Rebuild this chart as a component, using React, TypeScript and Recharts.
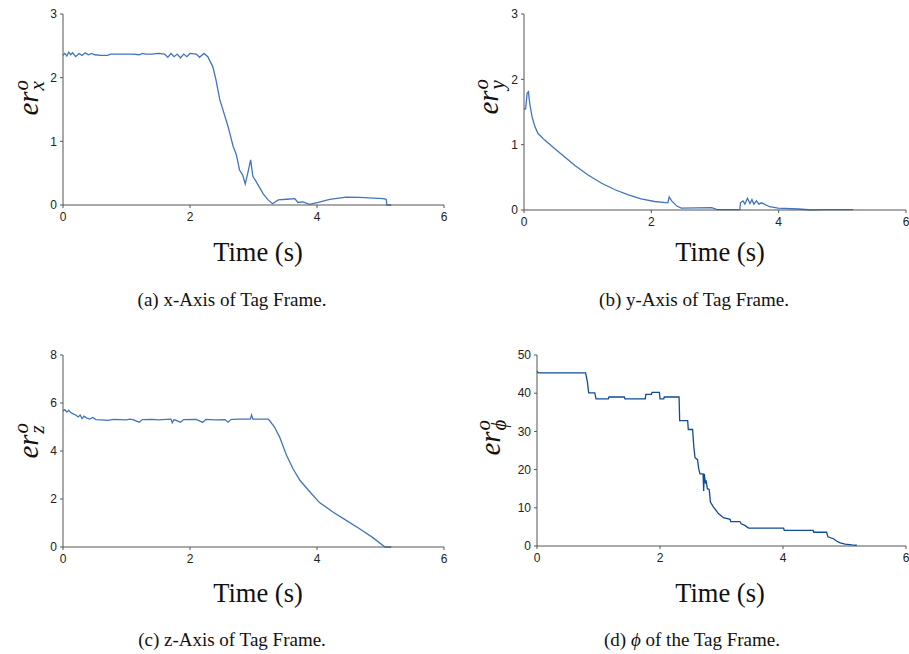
import { LineChart, Line, XAxis, YAxis } from "recharts";

// er_x
const timeX = [
  0, 0.03, 0.06, 0.09, 0.12, 0.15, 0.2, 0.25, 0.3, 0.35, 0.4, 0.45, 0.5, 0.6, 0.7, 0.75, 0.8, 0.9, 1.0, 1.1,
  1.2, 1.25, 1.3, 1.4, 1.5, 1.6, 1.65, 1.7, 1.75, 1.8, 1.85, 1.9, 1.95, 2.0, 2.1, 2.15, 2.22, 2.28, 2.36, 2.41,
  2.47, 2.52, 2.6, 2.68, 2.73, 2.78, 2.83, 2.87, 2.91, 2.955, 2.99, 3.04, 3.15, 3.23, 3.3, 3.39, 3.52, 3.65, 3.7,
  3.78, 3.88, 4.02, 4.2, 4.46, 4.67, 5.04, 5.09, 5.1, 5.17,
];
const errX = [
  2.35, 2.38, 2.34, 2.4, 2.36, 2.39, 2.33, 2.38, 2.35, 2.39, 2.36, 2.38, 2.36, 2.35, 2.35, 2.37, 2.37, 2.37, 2.37, 2.37,
  2.36, 2.38, 2.37, 2.37, 2.38, 2.37, 2.32, 2.38, 2.33, 2.37, 2.31, 2.37, 2.33, 2.38, 2.37, 2.32, 2.38, 2.33, 2.17, 1.96,
  1.65, 1.49, 1.23, 0.92, 0.79, 0.55, 0.47, 0.33, 0.5, 0.71, 0.45, 0.37, 0.18, 0.08, 0.02, 0.08, 0.09, 0.1, 0.04,
  0.05, 0.01, 0.04, 0.09, 0.125, 0.12, 0.1, 0.09, 0, 0,
];

// er_y
const timeY = [
  0, 0.026, 0.05, 0.07, 0.09, 0.126, 0.17, 0.22, 0.325, 0.48, 0.64, 0.8, 1.0, 1.22, 1.43, 1.64, 1.84, 2.05, 2.26,
  2.28, 2.32, 2.4, 2.47, 2.95, 3.03, 3.39, 3.4, 3.44, 3.47, 3.51, 3.55, 3.58, 3.61, 3.65, 3.69, 3.73, 3.86, 3.99,
  4.31, 4.52, 4.7, 5.17,
];
const errY = [
  1.54, 1.55, 1.79, 1.81, 1.63, 1.43, 1.28, 1.17, 1.07, 0.94, 0.81, 0.68, 0.54, 0.41, 0.31, 0.23, 0.17, 0.13, 0.11,
  0.2, 0.14, 0.06, 0.03, 0.036, 0.005, 0.005, 0.11, 0.14, 0.09, 0.18, 0.1, 0.16, 0.09, 0.14, 0.09, 0.11, 0.05, 0.03,
  0.015, 0, 0.005, 0.005,
];

// er_z
const timeZ = [
  0, 0.03, 0.06, 0.09, 0.12, 0.16, 0.2, 0.24, 0.27, 0.3, 0.33, 0.37, 0.42, 0.47, 0.52, 0.6, 0.7, 0.8, 0.9, 1.0,
  1.05, 1.1, 1.2, 1.25, 1.4, 1.5, 1.7, 1.72, 1.75, 1.85, 1.9, 2.1, 2.2, 2.25, 2.4, 2.55, 2.6, 2.65, 2.8, 2.95,
  2.97, 2.99, 3.1, 3.23, 3.25, 3.33, 3.41, 3.52, 3.62, 3.73, 3.89, 4.04, 4.25, 4.46, 4.67, 4.88, 5.07, 5.17,
];
const errZ = [
  5.67, 5.72, 5.62, 5.7, 5.6, 5.55, 5.5, 5.42, 5.5, 5.35, 5.45, 5.38, 5.33, 5.4, 5.31, 5.3, 5.28, 5.32, 5.31, 5.3,
  5.33, 5.31, 5.2, 5.31, 5.32, 5.3, 5.33, 5.18, 5.31, 5.2, 5.31, 5.32, 5.19, 5.32, 5.3, 5.31, 5.2, 5.32, 5.33, 5.33,
  5.5, 5.33, 5.33, 5.33, 5.28, 5.0, 4.59, 3.82, 3.27, 2.78, 2.29, 1.85, 1.46, 1.11, 0.76, 0.39, 0, 0,
];

// er_phi
const timePhi = [
  0, 0.02, 0.79, 0.82, 0.84, 0.94, 0.96, 1.16, 1.17, 1.42, 1.43, 1.76, 1.77, 1.86, 1.87, 1.99, 2.0, 2.06, 2.07,
  2.31, 2.32, 2.45, 2.46, 2.53, 2.55, 2.57, 2.61, 2.63, 2.65, 2.7, 2.71, 2.72, 2.74, 2.75, 2.77, 2.8, 2.82, 2.87,
  2.95, 3.03, 3.14, 3.15, 3.3, 3.32, 3.38, 3.44, 4.01, 4.02, 4.49, 4.5, 4.71, 4.73, 4.82, 4.87, 4.93, 5.01, 5.12,
  5.2,
];
const errPhi = [
  45.8, 45.3, 45.3, 42.9, 40.1, 40.1, 38.5, 38.5, 39.0, 39.0, 38.5, 38.5, 39.7, 39.7, 40.2, 40.2, 38.5, 38.5, 39.0,
  39.0, 32.8, 32.8, 30.5, 30.5, 25.9, 23.1, 22.6, 20.2, 18.9, 18.9, 14.4, 18.9, 16.3, 17.2, 15.0, 14.8, 11.5, 10.2,
  8.5, 7.4, 7.0, 6.4, 6.4, 5.8, 5.4, 4.7, 4.7, 4.1, 4.1, 3.6, 3.6, 2.4, 1.9, 1.3, 0.8, 0.5, 0.3, 0.2,
];

const xTicks = [0, 2, 4, 6];

const serif = "'Liberation Serif', 'Times New Roman', serif";
const sans = "'Liberation Sans', Arial, sans-serif";

const toRows = (t: number[], v: number[]) => t.map((time, i) => ({ time, value: v[i] }));

type PanelProps = {
  left: number;
  top: number;
  w: number;
  h: number;
  t: number[];
  v: number[];
  yMax: number;
  yTicks: number[];
  color: string;
  yLeft: number;
};

const Panel = ({ left, top, w, h, t, v, yMax, yTicks, color, yLeft }: PanelProps) => {
  const axisLine = { stroke: "#555", strokeWidth: 1 };
  const tick = { fontSize: 12, fontFamily: sans, fill: "#222" };
  return (
    <div style={{ position: "absolute", left: left - yLeft, top: top - 10 }}>
      <LineChart
        width={w + yLeft + 20}
        height={h + 10 + 30}
        data={toRows(t, v)}
        margin={{ top: 10, right: 20, bottom: 0, left: 0 }}
      >
        <XAxis
          dataKey="time"
          type="number"
          domain={[0, 6]}
          ticks={xTicks}
          height={30}
          axisLine={axisLine}
          tickLine={axisLine}
          tickSize={3}
          tickMargin={4}
          tick={tick}
          interval={0}
        />
        <YAxis
          type="number"
          domain={[0, yMax]}
          ticks={yTicks}
          width={yLeft}
          axisLine={axisLine}
          tickLine={axisLine}
          tickSize={3}
          tickMargin={3}
          tick={tick}
          interval={0}
        />
        <Line
          dataKey="value"
          type="linear"
          stroke={color}
          strokeWidth={1.3}
          dot={false}
          isAnimationActive={false}
        />
      </LineChart>
    </div>
  );
};

// er with stacked o (sup) and axis name (sub), rotated like a y label
const YLabel = ({ x, y, sub }: { x: number; y: number; sub: string }) => (
  <div
    style={{
      position: "absolute",
      left: x,
      top: y,
      transform: "translate(-50%, -50%) rotate(-90deg)",
      fontFamily: serif,
      fontStyle: "italic",
      fontSize: 29,
      whiteSpace: "nowrap",
      lineHeight: 1,
      color: "#111",
    }}
  >
    er
    <span style={{ position: "relative", display: "inline-block", width: "0.45em" }}>
      <span style={{ position: "absolute", left: 1, bottom: 6, fontSize: 21, lineHeight: 1 }}>o</span>
      <span style={{ position: "absolute", left: 1, bottom: -10, fontSize: 21, lineHeight: 1 }}>{sub}</span>
    </span>
  </div>
);

const Text = ({ x, y, size, children }: { x: number; y: number; size: number; children: any }) => (
  <div
    style={{
      position: "absolute",
      left: x,
      top: y,
      transform: "translate(-50%, -50%)",
      fontFamily: serif,
      fontSize: size,
      whiteSpace: "nowrap",
      color: "#111",
    }}
  >
    {children}
  </div>
);

export default function App() {
  return (
    <div
      style={{
        position: "absolute",
        left: 0,
        top: 0,
        width: 909,
        height: 654,
        overflow: "hidden",
        background: "#fff",
      }}
    >
      <Panel left={63} top={14} w={381} h={191} t={timeX} v={errX} yMax={3} yTicks={[0, 1, 2, 3]} color="#4274bb" yLeft={45} />
      <Panel left={524} top={14} w={382} h={196} t={timeY} v={errY} yMax={3} yTicks={[0, 1, 2, 3]} color="#4274bb" yLeft={45} />
      <Panel left={63} top={355} w={381} h={192} t={timeZ} v={errZ} yMax={8} yTicks={[0, 2, 4, 6, 8]} color="#4274bb" yLeft={45} />
      <Panel left={537} top={355} w={369} h={191} t={timePhi} v={errPhi} yMax={50} yTicks={[0, 10, 20, 30, 40, 50]} color="#0f4c92" yLeft={45} />

      <YLabel x={28} y={97} sub="x" />
      <YLabel x={488} y={96} sub="y" />
      <YLabel x={28} y={440} sub="z" />
      <YLabel x={490} y={437} sub="ϕ" />

      <Text x={258} y={252} size={26.5}>Time (s)</Text>
      <Text x={720} y={252} size={26.5}>Time (s)</Text>
      <Text x={258} y={593} size={26.5}>Time (s)</Text>
      <Text x={720} y={593} size={26.5}>Time (s)</Text>

      <Text x={232} y={300} size={19}>(a) x-Axis of Tag Frame.</Text>
      <Text x={694} y={300} size={19}>(b) y-Axis of Tag Frame.</Text>
      <Text x={232} y={640} size={19}>(c) z-Axis of Tag Frame.</Text>
      <Text x={692} y={640} size={19}>
        (d) <i>ϕ</i> of the Tag Frame.
      </Text>
    </div>
  );
}
